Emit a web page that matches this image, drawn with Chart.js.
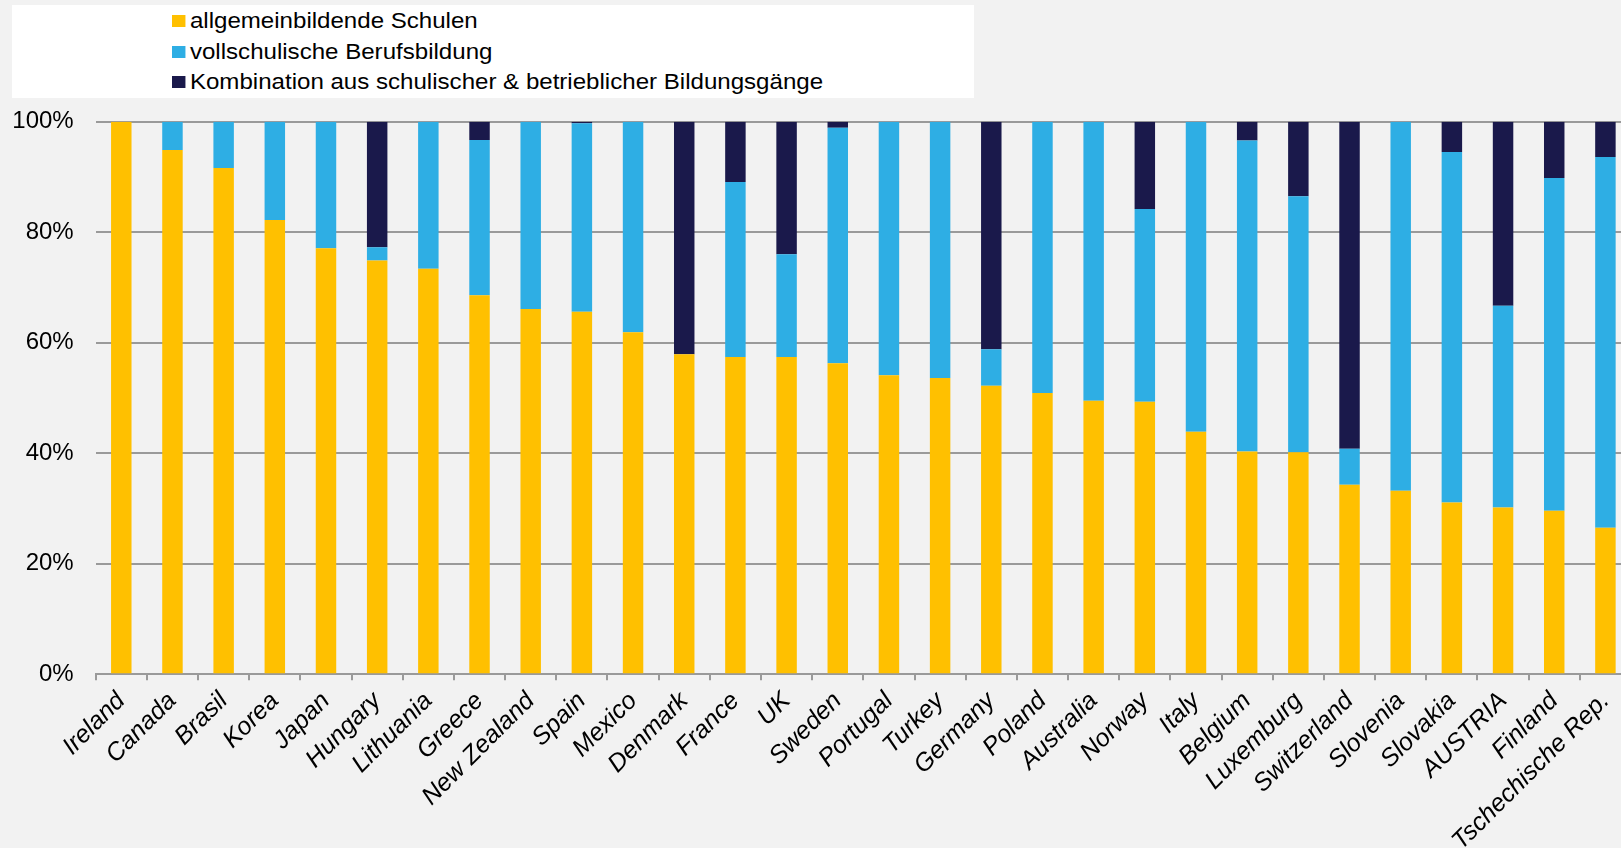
<!DOCTYPE html>
<html>
<head>
<meta charset="utf-8">
<script src="https://cdn.jsdelivr.net/npm/chart.js@4/dist/chart.umd.min.js"></script>
<style>
  html, body { margin: 0; padding: 0; background: #f2f2f2; overflow: hidden; width: 1621px; height: 848px; }
  #wrap { position: relative; width: 1621px; height: 848px; overflow: hidden; }
  #c { position: absolute; left: 0; top: 0; }
  #legendBox { position: absolute; left: 12px; top: 5px; width: 962px; height: 93px; background: #ffffff; }
  #legendList { position: absolute; left: 160px; top: 1px; transform: scaleX(1.12); transform-origin: 0 0;
    font-family: "Liberation Sans", Arial, sans-serif; font-size: 21.5px; color: #000; white-space: nowrap; }
  .li { height: 30.5px; line-height: 30.5px; display: flex; align-items: center; }
  .sw { width: 11.5px; height: 12px; margin-right: 4.5px; flex: none; }
</style>
</head>
<body>
<div id="wrap">
  <canvas id="c" width="1640" height="848"></canvas>
  <div id="legendBox"><div id="legendList"></div></div>
</div>
<script>
const categories = ["Ireland", "Canada", "Brasil", "Korea", "Japan", "Hungary", "Lithuania", "Greece",
  "New Zealand", "Spain", "Mexico", "Denmark", "France", "UK", "Sweden", "Portugal", "Turkey", "Germany",
  "Poland", "Australia", "Norway", "Italy", "Belgium", "Luxemburg", "Switzerland", "Slovenia", "Slovakia",
  "AUSTRIA", "Finland", "Tschechische Rep."];

const allgemeinbildend = [100, 94.9, 91.6, 82.2, 77.1, 74.9, 73.4, 68.6, 66.1, 65.6, 61.9, 57.9, 57.4, 57.4,
  56.3, 54.1, 53.6, 52.2, 50.9, 49.5, 49.3, 43.9, 40.3, 40.2, 34.3, 33.2, 31.1, 30.2, 29.6, 26.5];

const vollschulisch = [0, 5.1, 8.4, 17.8, 22.9, 2.4, 26.6, 28.1, 33.9, 34.1, 38.1, 0, 31.7, 18.6, 42.6, 45.9,
  46.4, 6.6, 49.1, 50.5, 34.9, 56.1, 56.3, 46.3, 6.5, 66.8, 63.4, 36.5, 60.2, 67.1];

const kombination = [0, 0, 0, 0, 0, 22.7, 0, 3.3, 0, 0.3, 0, 42.1, 10.9, 24.0, 1.1, 0, 0, 41.2, 0, 0, 15.8,
  0, 3.4, 13.5, 59.2, 0, 5.5, 33.3, 10.2, 6.4];

const yTicks = [0, 20, 40, 60, 80, 100];

const seriesNames = ["allgemeinbildende Schulen", "vollschulische Berufsbildung",
  "Kombination aus schulischer & betrieblicher Bildungsgänge"];
const seriesColors = ["#ffc000", "#2eaee4", "#1a194b"];

const FONT = "'Liberation Sans', Arial, sans-serif";
const GRID = "#9a9a9a";

const chart = new Chart(document.getElementById("c"), {
  type: "bar",
  data: {
    labels: categories,
    datasets: [
      { label: seriesNames[0], data: allgemeinbildend, backgroundColor: seriesColors[0] },
      { label: seriesNames[1], data: vollschulisch, backgroundColor: seriesColors[1] },
      { label: seriesNames[2], data: kombination, backgroundColor: seriesColors[2] }
    ]
  },
  options: {
    responsive: false,
    animation: false,
    devicePixelRatio: 1,
    datasets: { bar: { barPercentage: 0.4, categoryPercentage: 1.0, borderWidth: 0 } },
    layout: { padding: { top: 121.7, right: 9, left: 0, bottom: 0 } },
    plugins: {
      legend: { display: false },
      tooltip: { enabled: false }
    },
    scales: {
      x: {
        stacked: true,
        offset: true,
        border: { display: true, color: GRID, width: 2 },
        grid: { display: true, drawOnChartArea: false, drawTicks: true, tickLength: 6, color: GRID, lineWidth: 2, offset: true },
        ticks: {
          autoSkip: false, minRotation: 45, maxRotation: 45, padding: 6,
          color: "#000", font: { family: FONT, size: 25, style: "italic" }
        },
        afterFit: (s) => { s.height = 848 - 674.3; }
      },
      y: {
        stacked: true,
        min: 0, max: 100,
        afterBuildTicks: (s) => { s.ticks = yTicks.map(v => ({ value: v })); },
        border: { display: false },
        grid: { color: GRID, lineWidth: 2, drawTicks: false },
        ticks: {
          padding: 22, color: "#000", font: { family: FONT, size: 24 },
          callback: (v) => v + "%"
        },
        afterFit: (s) => { s.width = 95.7; }
      }
    }
  }
});

// HTML legend built from the chart's datasets
const list = document.getElementById("legendList");
chart.data.datasets.forEach(ds => {
  const row = document.createElement("div");
  row.className = "li";
  const sw = document.createElement("span");
  sw.className = "sw";
  sw.style.background = ds.backgroundColor;
  const tx = document.createElement("span");
  tx.textContent = ds.label;
  row.appendChild(sw);
  row.appendChild(tx);
  list.appendChild(row);
});
</script>
</body>
</html>
